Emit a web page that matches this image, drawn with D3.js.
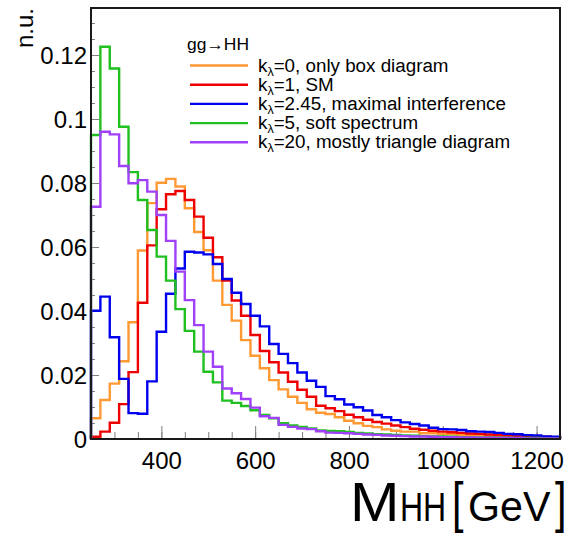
<!DOCTYPE html>
<html>
<head>
<meta charset="utf-8">
<script src="https://cdn.jsdelivr.net/npm/d3@7"></script>
<style>
  html, body { margin: 0; padding: 0; background: #fff; }
  svg { display: block; }
  text { font-family: "Liberation Sans", Arial, Helvetica, sans-serif; }
</style>
</head>
<body>
<svg id="chart" width="572" height="534"></svg>
<script>
// Bin edges of the m_HH histograms: 20 GeV bins from 250 to 1250 GeV
const binLow = 250;
const binWidth = 20;
const nBins = 50;

// Normalised di-Higgs mass distributions (one value per bin)
const kl0 = [0.0065,0.0122,0.0173,0.0243,0.0365,0.0589,0.0737,0.0801,0.0813,0.0789,
  0.0721,0.0647,0.0590,0.0495,0.0419,0.0370,0.0309,0.0260,0.0221,0.0184,
  0.0155,0.0132,0.0113,0.0093,0.0082,0.0078,0.0068,0.0057,0.0049,0.0041,
  0.0037,0.0030,0.0026,0.0023,0.0023,0.0018,0.0018,0.0016,0.0015,0.0013,
  0.0012,0.0011,0.0010,0.0009,0.0008,0.0007,0.0006,0.0006,0.0005,0.0004];
const kl1 = [0.0007,0.0023,0.0051,0.0109,0.0209,0.0426,0.0605,0.0718,0.0765,0.0775,
  0.0747,0.0695,0.0629,0.0568,0.0495,0.0433,0.0385,0.0325,0.0275,0.0240,
  0.0208,0.0179,0.0154,0.0132,0.0104,0.0096,0.0087,0.0076,0.0068,0.0060,
  0.0053,0.0048,0.0042,0.0037,0.0032,0.0029,0.0026,0.0023,0.0021,0.0019,
  0.0017,0.0016,0.0014,0.0012,0.0011,0.0010,0.0009,0.0008,0.0007,0.0006];
const kl245 = [0.0401,0.0445,0.0318,0.0188,0.0081,0.0079,0.0180,0.0335,0.0454,0.0533,
  0.0585,0.0583,0.0577,0.0547,0.0500,0.0457,0.0422,0.0385,0.0352,0.0297,
  0.0266,0.0237,0.0208,0.0182,0.0163,0.0134,0.0124,0.0108,0.0099,0.0089,
  0.0075,0.0068,0.0059,0.0052,0.0047,0.0042,0.0035,0.0031,0.0030,0.0028,
  0.0024,0.0023,0.0022,0.0019,0.0016,0.0015,0.0012,0.0011,0.0008,0.0007];
const kl5 = [0.0950,0.1226,0.1158,0.0976,0.0834,0.0747,0.0653,0.0570,0.0495,0.0406,
  0.0338,0.0273,0.0210,0.0177,0.0120,0.0113,0.0103,0.0090,0.0075,0.0065,
  0.0049,0.0042,0.0038,0.0033,0.0027,0.0025,0.0024,0.0022,0.0019,0.0017,
  0.0015,0.0014,0.0013,0.0011,0.0010,0.0009,0.0008,0.0008,0.0007,0.0006,
  0.0006,0.0005,0.0005,0.0004,0.0004,0.0003,0.0003,0.0003,0.0002,0.0002];
const kl20 = [0.0726,0.0960,0.0952,0.0853,0.0799,0.0809,0.0773,0.0700,0.0619,0.0523,
  0.0434,0.0356,0.0273,0.0226,0.0158,0.0143,0.0125,0.0098,0.0071,0.0066,
  0.0044,0.0038,0.0033,0.0031,0.0024,0.0020,0.0019,0.0018,0.0016,0.0014,
  0.0013,0.0011,0.0010,0.0009,0.0008,0.0008,0.0007,0.0006,0.0006,0.0005,
  0.0005,0.0004,0.0004,0.0003,0.0003,0.0003,0.0002,0.0002,0.0002,0.0002];

// Legend entries: text after the k_λ symbol
const seriesLabels = ["=0, only box diagram", "=1, SM", "=2.45, maximal interference",
  "=5, soft spectrum", "=20, mostly triangle diagram"];
const seriesColors = ["#ff9933", "#ee0000", "#0000ee", "#1fc01f", "#a040f8"];
const seriesValues = [kl0, kl1, kl245, kl5, kl20];
const legendTitle = "gg\u2192HH";

// Axis ticks
const xMajorTicks = [400, 600, 800, 1000, 1200];
const xMinorTicks = d3.range(300, 1251, 50);
const yMajorTicks = [0, 0.02, 0.04, 0.06, 0.08, 0.1, 0.12];
const yTickLabels = ["0", "0.02", "0.04", "0.06", "0.08", "0.1", "0.12"];
const yMinorTicks = d3.range(0, 0.1341, 0.005);

const svg = d3.select("#chart");
const padL = 91, padR = 560, padT = 8, padB = 439;

const x = d3.scaleLinear().domain([binLow, binLow + binWidth * nBins]).range([padL, padR]);
const y = d3.scaleLinear().domain([0, (padB - padT) / 3200]).range([padB, padT]);

// Minor and major ticks, drawn inward from the frame
const tickColor = "#808080";
const xMinor = svg.append("g").attr("transform", `translate(0,${padB})`)
  .call(d3.axisBottom(x).tickValues(xMinorTicks).tickSize(-7).tickFormat(""));
const xMajor = svg.append("g").attr("transform", `translate(0,${padB})`)
  .call(d3.axisBottom(x).tickValues(xMajorTicks).tickSize(-13)
    .tickFormat(d3.format("d")));
const yMinor = svg.append("g").attr("transform", `translate(${padL},0)`)
  .call(d3.axisLeft(y).tickValues(yMinorTicks).tickSize(-4).tickFormat(""));
const yMajor = svg.append("g").attr("transform", `translate(${padL},0)`)
  .call(d3.axisLeft(y).tickValues(yMajorTicks).tickSize(-8).tickPadding(4)
    .tickFormat((d, i) => yTickLabels[i]));

[xMinor, xMajor, yMinor, yMajor].forEach(g => {
  g.select(".domain").remove();
  g.selectAll(".tick line").attr("stroke", tickColor).attr("stroke-width", 1);
  g.selectAll(".tick text").attr("fill", "#000").attr("font-size", 24)
    .attr("font-family", "'Liberation Sans', Arial, sans-serif");
});
yMajor.selectAll(".tick text").attr("dy", "0.36em");
xMajor.selectAll(".tick text").attr("y", 30).attr("dy", 0);

// Histogram outlines as step lines
const stepLine = d3.line()
  .x(d => x(d[0]))
  .y(d => y(d[1]))
  .curve(d3.curveStepAfter);

seriesValues.forEach((vals, s) => {
  const pts = [[binLow, 0]];
  vals.forEach((v, i) => pts.push([binLow + i * binWidth, v]));
  pts.push([binLow + nBins * binWidth, vals[nBins - 1]]);
  pts.push([binLow + nBins * binWidth, 0]);
  svg.append("path")
    .datum(pts)
    .attr("d", stepLine)
    .attr("fill", "none")
    .attr("stroke", seriesColors[s])
    .attr("stroke-width", 2.4)
    .attr("stroke-linejoin", "miter");
});

// Frame
svg.append("rect")
  .attr("x", padL).attr("y", padT)
  .attr("width", padR - padL).attr("height", padB - padT)
  .attr("fill", "none").attr("stroke", "#1a1a1a").attr("stroke-width", 2);

// Legend
const legend = svg.append("g");
legend.append("text")
  .attr("x", 187).attr("y", 50)
  .attr("font-size", 17)
  .attr("textLength", 62).attr("lengthAdjust", "spacingAndGlyphs")
  .text(legendTitle);
seriesLabels.forEach((lab, i) => {
  const ly = 65.5 + i * 19.2;
  legend.append("line")
    .attr("x1", 190).attr("x2", 248)
    .attr("y1", ly).attr("y2", ly)
    .attr("stroke", seriesColors[i]).attr("stroke-width", 2.4);
  const t = legend.append("text")
    .attr("x", 258).attr("y", ly + 6)
    .attr("font-size", 18.8);
  t.append("tspan").text("k");
  t.append("tspan").attr("font-size", 12.5).attr("dy", 4).text("\u03bb");
  t.append("tspan").attr("dy", -4).text(lab);
});

// Axis titles
svg.append("text")
  .attr("transform", "translate(33,8) rotate(-90)")
  .attr("text-anchor", "end")
  .attr("font-size", 24)
  .text("n.u.");

// x title pieces: [text, left x, font size, horizontal squeeze]
const xTitleParts = [["M", 350, 55, 1.08], ["HH", 400, 40, 0.8],
  ["[", 452, 55, 0.75], ["GeV", 468, 42, 0.98], ["]", 555, 55, 0.75]];
const xt = svg.append("g")
  .attr("font-family", "'DejaVu Sans Condensed', 'DejaVu Sans', sans-serif");
xTitleParts.forEach(([txt, px, fs, sx]) => {
  xt.append("text")
    .attr("transform", `translate(${px},521) scale(${sx},1)`)
    .attr("font-size", fs)
    .text(txt);
});
</script>
</body>
</html>
